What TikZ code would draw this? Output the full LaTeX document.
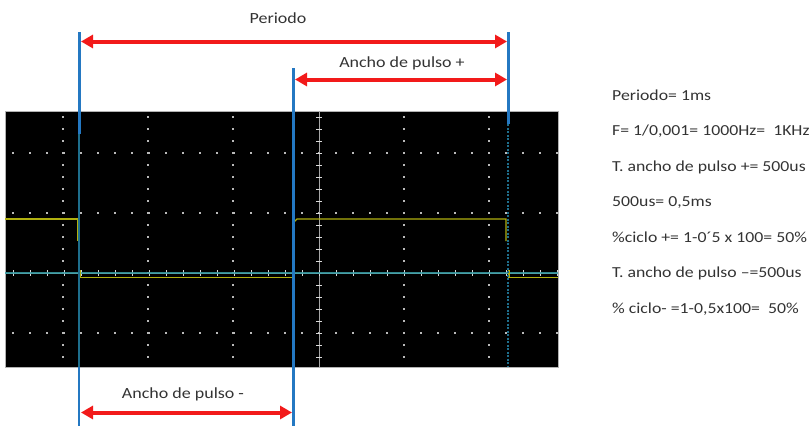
\documentclass[tikz,border=0pt]{standalone}
\usepackage{fontspec}
\setmainfont[FakeStretch=1.16]{Carlito}
\usetikzlibrary{arrows.meta}
\definecolor{mkblue}{HTML}{2478C2}
\definecolor{mkteal}{HTML}{1E6E8C}
\definecolor{mkred}{HTML}{F21A1A}
\definecolor{sig}{HTML}{B0B010}
\definecolor{gnd}{HTML}{3A9FA8}
\definecolor{txt}{HTML}{333333}
\tikzset{
  marker/.style={mkblue, line width=3pt},
  dimarrow/.style={mkred, line width=4pt, {Triangle[length=12pt,width=13pt]}-{Triangle[length=12pt,width=13pt]}},
  lbl/.style={text=txt, font=\fontsize{15.5}{18}\selectfont, inner sep=0pt},
  info/.style={text=txt, font=\fontsize{15.3}{18}\selectfont, inner sep=0pt, anchor=base west},
  griddot/.style={fill=gray!55},
}
\begin{document}
\begin{tikzpicture}[x=1pt,y=-1pt]
\useasboundingbox (0,0) rectangle (810,426);
% screen
\fill[black] (5,111) rectangle (558,367);
\draw[gray!60, line width=0.8pt] (5,111) rectangle (558,367);
% dotted grid
\foreach \yy in {153,213,333}{
  \foreach \k in {-18,...,14}{
    \fill[griddot] ({319+\k*17-0.6},{\yy-0.6}) rectangle ++(1.2,1.2);
  }
}
\foreach \xx in {63,148,233,404,489}{
  \foreach \k in {-13,...,7}{
    \fill[griddot] ({\xx-0.6},{273+\k*12-0.6}) rectangle ++(1.2,1.2);
  }
}
% axes
\draw[gray!70, line width=0.8pt] (5,273) -- (558,273);
\draw[gray!70, line width=0.8pt] (319,111) -- (319,367);
\foreach \k in {-18,...,14}{
  \draw[white!85!black, line width=0.8pt] ({319+\k*17},270) -- ({319+\k*17},276);
}
\foreach \k in {-13,...,7}{
  \draw[white!85!black, line width=0.8pt] (316,{273+\k*12}) -- (322,{273+\k*12});
}
% ground reference
\draw[gnd, line width=1.8pt, opacity=0.85] (5,273) -- (558,273);
% signal
\draw[sig, line width=1.1pt] (5,219) -- (78,219) -- (78,241);
\draw[sig, line width=1.1pt] (80,270) -- (80,277.5) -- (292,277.5);
\draw[sig, line width=1.1pt] (294,277.5) -- (294,222) -- (297,219) -- (506,219) -- (506,241);
\draw[sig, line width=1.1pt] (509,270) -- (509,277.5) -- (558,277.5);
% markers
\coordinate (aT) at (79,32);
\coordinate (aS) at (79,134);
\coordinate (aB) at (79,426);
\coordinate (bT) at (293,68);
\coordinate (bB) at (293,426);
\coordinate (cT) at (508,32);
\coordinate (cS) at (508,124);
\coordinate (cB) at (508,367);
\draw[marker] (aT) -- (aS);
\draw[mkteal, line width=2pt] (aS) -- (79,367);
\draw[mkblue, line width=2pt] (79,367) -- (aB);
\draw[marker] (bT) -- (bB);
\draw[marker] (cT) -- (cS);
\draw[mkteal, line width=2pt, dash pattern=on 2pt off 1.5pt] (cS) -- (cB);
% dimension arrows
\coordinate (p1) at (81,41.5);
\coordinate (p2) at (507,41.5);
\coordinate (q1) at (295,79.5);
\coordinate (q2) at (507,79.5);
\coordinate (r1) at (81,412.5);
\coordinate (r2) at (292,412.5);
\draw[dimarrow] (p1) -- (p2);
\draw[dimarrow] (q1) -- (q2);
\draw[dimarrow] (r1) -- (r2);
\node[lbl, anchor=base] (lp) at (278,23) {Periodo};
\node[lbl, anchor=base] (lq) at (402,67.5) {Ancho de pulso +};
\node[lbl, anchor=base] (lr) at (183,398.5) {Ancho de pulso -};
% info text
\node[info] (i1) at (612,100) {Periodo= 1ms};
\node[info] (i2) at (612,135.5) {F= 1/0,001= 1000Hz=\ \ 1KHz};
\node[info] (i3) at (612,171) {T. ancho de pulso += 500us};
\node[info] (i4) at (612,206.5) {500us= 0,5ms};
\node[info] (i5) at (612,242) {\%ciclo += 1-0´5 x 100= 50\%};
\node[info] (i6) at (612,277.5) {T. ancho de pulso –=500us};
\node[info] (i7) at (612,313) {\% ciclo- =1-0,5x100=\ \ 50\%};
\end{tikzpicture}
\end{document}
